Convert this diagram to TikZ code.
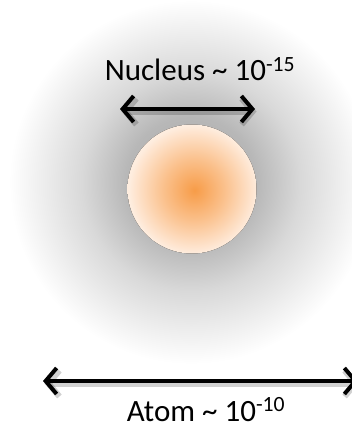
\documentclass[tikz,border=0pt]{standalone}
\usepackage{fontspec}
\setmainfont{Carlito}
\usetikzlibrary{arrows.meta}

\definecolor{nucore}{HTML}{F79C48}
\definecolor{nuedge}{HTML}{FEE6D2}
\pgfdeclareradialshading{cloud}{\pgfpoint{0bp}{0bp}}{color(0bp)=(black!36); color(9bp)=(black!28); color(15bp)=(black!15); color(21bp)=(black!6); color(25bp)=(white); color(50bp)=(white)}
\pgfdeclareradialshading{nucleus}{\pgfpoint{1bp}{-0.5bp}}{color(0bp)=(nucore); color(12bp)=(nucore!50!nuedge); color(23bp)=(nuedge); color(25bp)=(nuedge!70!white); color(50bp)=(nuedge!70!white)}

\begin{document}
\begin{tikzpicture}[x=1pt,y=-1pt,>={Straight Barb[length=11pt,width=26pt]},font=\fontsize{31}{35}\selectfont]
\tikzset{
  sizearrow/.style={<->,line width=4pt,black,
    preaction={draw=black,opacity=0.18,line width=6pt,transform canvas={shift={(1.5pt,-2.5pt)}}}},
  sizelabel/.style={inner sep=0pt,anchor=base}
}
\useasboundingbox (0,0) rectangle (352,428);
% electron cloud and nucleus
\begin{scope}
\clip (0,0) rectangle (352,428);
\fill[shading=cloud] (9,0) rectangle (373,364);
\end{scope}
\fill[shading=nucleus] (192,189) circle (64.5);
% sizes
\node[sizelabel] (nucleuslabel) at (200,81) {Nucleus \textasciitilde\ 10\textsuperscript{-15}};
\coordinate (nl) at (120,109);
\coordinate (nr) at (255,109);
\draw[sizearrow] (nl) -- (nr);
\coordinate (al) at (43,381);
\coordinate (ar) at (358,381);
\draw[sizearrow] (al) -- (ar);
\node[sizelabel] (atomlabel) at (206,421) {Atom \textasciitilde\ 10\textsuperscript{-10}};
\end{tikzpicture}
\end{document}
